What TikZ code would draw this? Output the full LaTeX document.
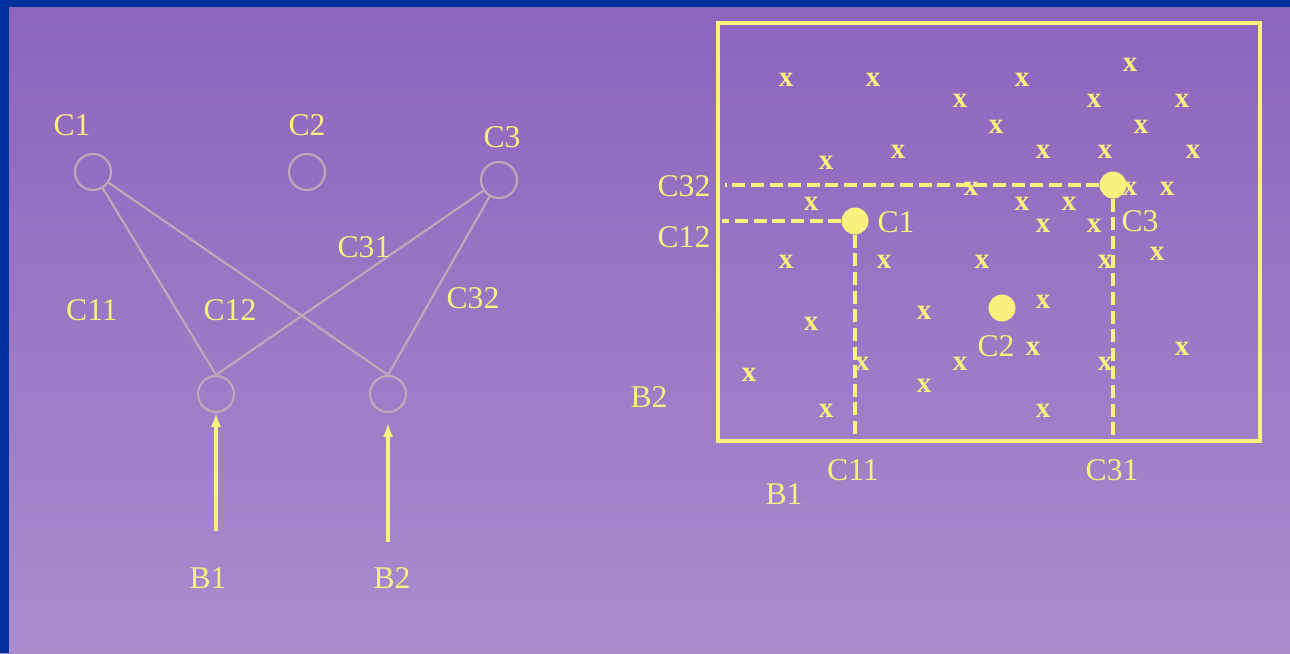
\documentclass[tikz,border=0pt]{standalone}
\usepackage{fontspec}
\setmainfont{Liberation Serif}
\usetikzlibrary{arrows.meta, positioning}
\definecolor{slideblue}{RGB}{0,51,160}
\definecolor{slidetop}{RGB}{141,99,189}
\definecolor{slidebottom}{RGB}{170,140,205}
\definecolor{markyellow}{RGB}{250,240,125}
\definecolor{unitgray}{RGB}{196,168,186}
\tikzset{
  unit/.style={
    circle, draw=unitgray, line width=1.2pt,
    minimum size=0.72cm, inner sep=0pt
  },
  weight/.style={draw=unitgray, line width=1.2pt},
  inarrow/.style={-{Latex[length=8pt,width=6pt]}, draw=markyellow, fill=markyellow, line width=1.8pt},
  lbl/.style={text=markyellow, font=\fontsize{18}{20}\selectfont, inner sep=0pt},
  xmark/.style={text=markyellow, font=\bfseries\fontsize{16.5}{18}\selectfont, inner sep=0pt},
  centroid/.style={circle, fill=markyellow, minimum size=0.54cm, inner sep=0pt},
  guide/.style={draw=markyellow, line width=1.9pt, dash pattern=on 7.4pt off 3.2pt},
  plotbox/.style={
    rectangle, draw=markyellow, line width=1.8pt,
    minimum width=10.84cm, minimum height=8.36cm, inner sep=0pt
  }
}

\begin{document}
\begin{tikzpicture}[x=0.02cm, y=-0.02cm]

% Slide background
\useasboundingbox (0,0) rectangle (1290,653);
\fill[top color=slidetop, bottom color=slidebottom] (0,0) rectangle (1290,653);
\fill[slideblue] (0,0) rectangle (1290,7);
\fill[slideblue] (0,0) rectangle (9,653);

% Network: output units
\node[unit] (c1) at (93,172) {};
\node[unit] (c2) at (307,172) {};
\node[unit] (c3) at (499,180) {};
\node[lbl] (c1lab) at (72,125) {C1};
\node[lbl] (c2lab) at (307,125) {C2};
\node[lbl] (c3lab) at (502,137) {C3};

% Network: input units
\node[unit] (in1) at (216,394) {};
\node[unit] (in2) at (388,394) {};
\node[lbl] (b1lab) at (208,578) {B1};
\node[lbl] (b2lab) at (392,578) {B2};

% Weights
\draw[weight] (c1) -- (in1.north);
\draw[weight] (c1) -- (in2.north);
\draw[weight] (c3) -- (in1.north);
\draw[weight] (c3) -- (in2.north);
\node[lbl] (w11) at (92,310) {C11};
\node[lbl] (w12) at (230,310) {C12};
\node[lbl] (w31) at (364,247) {C31};
\node[lbl] (w32) at (473,298) {C32};

% Inputs
\draw[inarrow, shorten <=0.72cm] (in1.south |- b1lab.north) -- (in1.south);
\draw[inarrow, shorten <=0.5cm, shorten >=0.2cm] (in2.south |- b2lab.north) -- (in2.south);

% Input space with prototypes
\node[plotbox] (plot) at (989,232) {};
\node[centroid] (c1dot) at (855,221) {};
\node[centroid] (c2dot) at (1002,308) {};
\node[centroid] (c3dot) at (1113,185) {};
\node[lbl] (c1dlab) at (896,222) {C1};
\node[lbl] (c2dlab) at (996,346) {C2};
\node[lbl] (c3dlab) at (1140,221) {C3};

\draw[guide, shorten >=0.18cm] (c3dot) -- (c3dot -| plot.west);
\draw[guide, shorten >=0.12cm] (c1dot) -- (c1dot -| plot.west);
\draw[guide] (c1dot) -- (c1dot |- plot.south);
\draw[guide, shorten >=0.16cm] (c3dot) -- (c3dot |- plot.south);

\node[lbl] (a32) at (684,186) {C32};
\node[lbl] (a12) at (684,237) {C12};
\node[lbl] (a11) at (853,470) {C11};
\node[lbl] (a31) at (1112,470) {C31};
\node[lbl] (axb2) at (649,397) {B2};
\node[lbl] (axb1) at (784,494) {B1};

% Samples
\foreach \px/\py [count=\i] in {1130/65, 786/80, 873/80, 1022/80, 960/101, 1094/101, 1182/101,
    996/127, 1141/127, 898/152, 1043/152, 1105/152, 1193/152, 826/163, 971/189, 1130/189,
    1167/189, 811/204, 1022/204, 1069/204, 1043/226, 1094/226, 1157/254, 786/262, 884/262,
    982/262, 1105/262, 1043/302, 924/313, 811/324, 1033/349, 1182/349, 862/364, 960/364,
    1105/364, 749/375, 924/386, 826/411, 1043/411}
  \node[xmark] (x\i) at (\px,\py) {x};

\end{tikzpicture}
\end{document}
